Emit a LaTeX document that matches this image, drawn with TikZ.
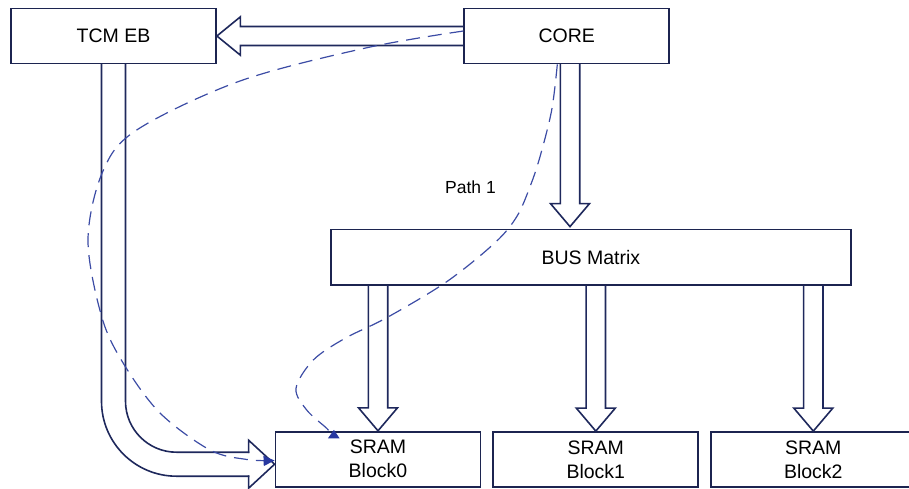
\documentclass[tikz,border=0pt]{standalone}
\usepackage{fontspec}
\setmainfont{Liberation Sans}
\usetikzlibrary{calc,arrows.meta}

\definecolor{boxline}{RGB}{28,36,80}
\definecolor{busline}{RGB}{30,40,92}
\definecolor{flowline}{RGB}{60,76,165}
\definecolor{flowtip}{RGB}{40,56,160}

\tikzset{
  unit/.style={draw=boxline, line width=1.8pt, fill=white, inner sep=0pt,
    minimum height=55pt, minimum width=205pt, align=center,
    font=\fontsize{19.5}{24}\selectfont},
  wide/.style={draw=busline, line width=1.6pt, line join=miter, line cap=rect},
  flow/.style={draw=flowline, line width=1.2pt, dash pattern=on 14pt off 8pt},
}

% hollow block arrow pointing down: #1 = base point, #2 = tip point
\newcommand\downbus[2]{%
  \draw[wide] ($(#1)+(-9.7,0)$) -- ($(#2)+(-9.7,-23)$) -- ($(#2)+(-19.5,-23)$)
    -- (#2) -- ($(#2)+(19.5,-23)$) -- ($(#2)+(9.7,-23)$) -- ($(#1)+(9.7,0)$);
}

\begin{document}
\begin{tikzpicture}[x=1pt,y=-1pt]
\useasboundingbox (0,0) rectangle (909,488);
\clip (0,0) rectangle (909,488);

% blocks
\node[unit] (tcm) at (113.5,36) {TCM EB};
\node[unit] (core) at (566.8,36) {CORE};
\node[unit, minimum width=519.7pt, minimum height=55.8pt] (bus) at (590.85,257.4) {BUS Matrix};
\node[unit] (sram0) at (378,459.2) {SRAM\\Block0};
\node[unit] (sram1) at (595.8,459.5) {SRAM\\Block1};
\node[unit] (sram2) at (813.3,459.5) {SRAM\\Block2};

% CORE -> TCM EB
\draw[wide] ($(core.west)+(0,-9.5)$) -- ($(tcm.east)+(23.5,-9.5)$)
  -- ($(tcm.east)+(23.5,-19.2)$) -- (tcm.east) -- ($(tcm.east)+(23.5,19.2)$)
  -- ($(tcm.east)+(23.5,9.5)$) -- ($(core.west)+(0,9.5)$);

% CORE -> BUS Matrix
\coordinate (cb) at ($(core.south)+(3.2,0)$);
\coordinate (ct) at ($(cb |- bus.north)+(0,-2)$);
\downbus{cb}{ct}

% BUS Matrix -> SRAM blocks
\foreach \k in {0,1,2}{
  \coordinate (b\k) at (sram\k.north |- bus.south);
  \downbus{b\k}{sram\k.north}
}

% TCM EB -> SRAM Block0 (bent)
\coordinate (t0) at ($(sram0.west)+(0,5)$);
\coordinate (bend) at (tcm.south |- t0);
\draw[wide, rounded corners=75pt] ($(tcm.south)+(-12,0)$) -- ($(bend)+(-12,12)$) -- ($(t0)+(-26,12)$);
\draw[wide] ($(t0)+(-26,12)$) -- ($(t0)+(-26,24)$) -- (t0) -- ($(t0)+(-26,-24)$) -- ($(t0)+(-26,-12)$);
\draw[wide, rounded corners=51pt] ($(t0)+(-26,-12)$) -- ($(bend)+(12,-12)$) -- ($(tcm.south)+(12,0)$);

% access path through TCM EB
\coordinate (f0) at ($(core.west)+(0,-5)$);
\coordinate (f1) at ($(sram0.west)+(0,1.3)$);
\draw[flow, -{Triangle[length=11pt,width=10pt,color=flowtip]}]
  plot[smooth, tension=0.55] coordinates {(f0) (367,47.7) (240,81) (136.7,130)
  (102.7,171.7) (88,240) (101.7,316.7) (123.3,363.3) (160,413) (210,450)
  (247,459.5) (f1)};

% Path 1 through BUS Matrix
\coordinate (g0) at ($(core.south)+(-9.5,0)$);
\coordinate (g1) at ($(sram0.north west)+(58,4.5)$);
\draw[flow] plot[smooth, tension=0.55] coordinates {(g0) (551.7,110) (540,156.7)
  (530,186.7) (516.7,216.7) (495,242.7) (446.7,281.7) (386.7,317.7) (345,338.3)
  (313.3,360) (296,388.3) (306.7,410) (326.7,428.3) (g1)};
\fill[flowtip] ($(sram0.north west)+(59.3,-1)$) -- ($(sram0.north west)+(53.3,7.6)$)
  -- ($(sram0.north west)+(65,7.6)$) -- cycle;

\node[font=\fontsize{17.5}{21}\selectfont, anchor=base] (pathlabel) at (470.5,193.3) {Path 1};
\end{tikzpicture}
\end{document}
